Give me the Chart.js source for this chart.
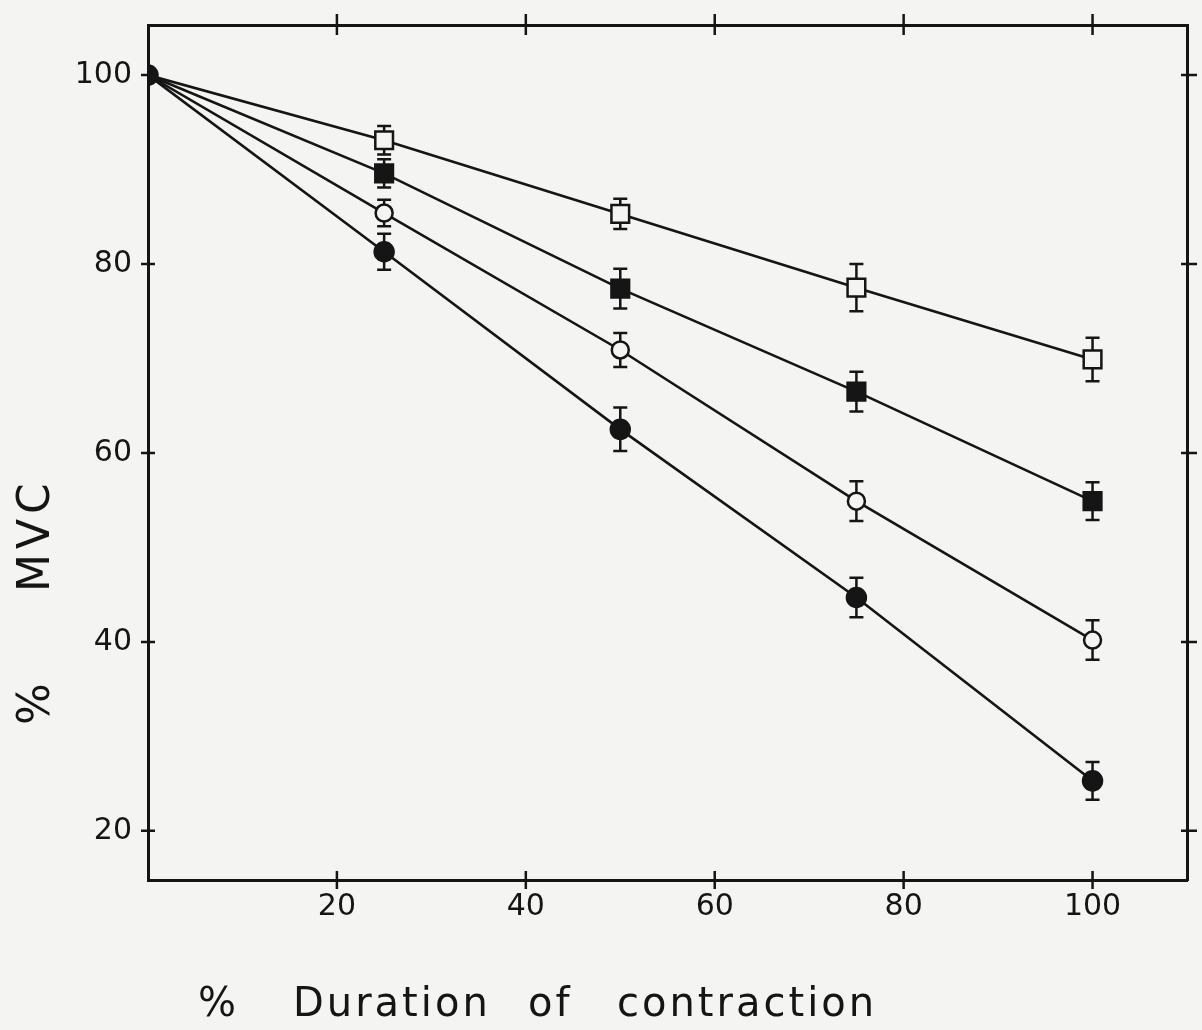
<!DOCTYPE html>
<html>
<head>
<meta charset="utf-8">
<script src="https://cdn.jsdelivr.net/npm/chart.js@4.4.1/dist/chart.umd.min.js"></script>
<style>
  html, body { margin: 0; padding: 0; background: #f4f4f2; }
</style>
</head>
<body>
<canvas id="myChart" width="1202" height="1030"></canvas>
<script>
// x values: % duration of contraction
const durations = [0, 25, 50, 75, 100];

// % MVC for each group (marker shape)
const filledCircle = [100, 81.3, 62.5, 44.7, 25.3];
const openCircle = [100, 85.4, 70.9, 54.9, 40.2];
const filledSquare = [100, 89.6, 77.4, 66.5, 54.9];
const openSquare = [100, 93.1, 85.3, 77.5, 69.9];

// +/- error bars
const filledCircleErr = [0, 1.9, 2.3, 2.1, 2.0];
const openCircleErr = [0, 1.4, 1.8, 2.1, 2.1];
const filledSquareErr = [0, 1.5, 2.1, 2.1, 2.0];
const openSquareErr = [0, 1.5, 1.6, 2.5, 2.3];

const xTicks = [20, 40, 60, 80, 100];
const yTicks = [20, 40, 60, 80, 100];

const ink = "#151515";
const paper = "#f4f4f2";
const ctx = document.getElementById("myChart").getContext("2d");

function series(values, errs, style, filled, radius, hideFirst) {
  return {
    data: durations.map((x, i) => ({ x: x, y: values[i] })),
    errors: errs,
    showLine: true,
    borderColor: ink,
    borderWidth: 2.6,
    pointStyle: style,
    pointBackgroundColor: filled ? ink : paper,
    pointBorderColor: ink,
    pointBorderWidth: 2.5,
    pointRadius: (c) => (hideFirst && c.dataIndex === 0 ? 0 : radius),
    tension: 0,
  };
}

// error bars, drawn under the markers
const errorBars = {
  id: "errorBars",
  beforeDatasetsDraw(chart) {
    const y = chart.scales.y;
    const c = chart.ctx;
    c.save();
    c.strokeStyle = ink;
    c.lineWidth = 2.5;
    chart.data.datasets.forEach((ds, di) => {
      const meta = chart.getDatasetMeta(di);
      ds.errors.forEach((e, i) => {
        if (!e) return;
        const px = meta.data[i].x;
        const v = ds.data[i].y;
        const top = y.getPixelForValue(v + e);
        const bot = y.getPixelForValue(v - e);
        c.beginPath();
        c.moveTo(px, top);
        c.lineTo(px, bot);
        c.moveTo(px - 7, top);
        c.lineTo(px + 7, top);
        c.moveTo(px - 7, bot);
        c.lineTo(px + 7, bot);
        c.stroke();
      });
    });
    c.restore();
  },
};

// tick marks on all four sides + axis titles
const frameTicks = {
  id: "frameTicks",
  beforeDraw(chart) {
    const c = chart.ctx;
    c.save();
    c.fillStyle = paper;
    c.fillRect(0, 0, chart.width, chart.height);
    c.restore();
  },
  afterDraw(chart) {
    const c = chart.ctx;
    const a = chart.chartArea;
    const x = chart.scales.x;
    const y = chart.scales.y;
    c.save();
    c.strokeStyle = ink;
    c.lineWidth = 2.5;
    c.beginPath();
    xTicks.forEach((t) => {
      const px = x.getPixelForValue(t);
      c.moveTo(px, a.bottom + 9);
      c.lineTo(px, a.bottom - 9);
      c.moveTo(px, a.top - 11);
      c.lineTo(px, a.top + 10);
    });
    yTicks.forEach((t) => {
      const py = y.getPixelForValue(t);
      c.moveTo(a.left - 7, py);
      c.lineTo(a.left + 7, py);
      c.moveTo(a.right - 6, py);
      c.lineTo(a.right + 10, py);
    });
    c.stroke();

    // axis titles
    c.fillStyle = ink;
    c.textBaseline = "alphabetic";
    c.textAlign = "left";
    c.font = "40px 'DejaVu Sans'";
    c.letterSpacing = "3px";
    c.fillText("%", 198, 1016);
    c.fillText("Duration", 293, 1016);
    c.fillText("of", 528, 1016);
    c.fillText("contraction", 617, 1016);

    c.font = "44px 'DejaVu Sans'";
    c.letterSpacing = "5px";
    c.translate(49, 725);
    c.rotate(-Math.PI / 2);
    c.fillText("%", 0, 0);
    c.fillText("MVC", 133, 0);
    c.restore();
  },
};

function noEdgePadding(s) {
  s.paddingTop = 0;
  s.paddingBottom = 0;
  s.paddingLeft = 0;
  s.paddingRight = 0;
}

new Chart(ctx, {
  type: "scatter",
  data: {
    datasets: [
      series(filledCircle, filledCircleErr, "circle", true, 9.5, false),
      series(openCircle, openCircleErr, "circle", false, 8.5, true),
      series(filledSquare, filledSquareErr, "rect", true, 12.5, true),
      series(openSquare, openSquareErr, "rect", false, 12.5, true),
    ],
  },
  options: {
    responsive: false,
    animation: false,
    devicePixelRatio: 1,
    layout: { padding: { top: 25, right: 14, left: 0, bottom: 0 } },
    plugins: { legend: { display: false }, tooltip: { enabled: false } },
    scales: {
      x: {
        type: "linear",
        position: "bottom",
        min: 0,
        max: 110,
        afterBuildTicks: (s) => { s.ticks = xTicks.map((v) => ({ value: v })); },
        afterFit: (s) => { s.height = 150; noEdgePadding(s); },
        grid: { display: false, drawTicks: false },
        border: { display: true, color: ink, width: 3 },
        ticks: { color: ink, padding: 9, maxRotation: 0, font: { family: "DejaVu Sans", size: 30 } },
      },
      x2: {
        type: "linear",
        position: "top",
        min: 0,
        max: 110,
        afterFit: (s) => { s.height = 0; noEdgePadding(s); },
        grid: { display: false, drawTicks: false },
        border: { display: true, color: ink, width: 3 },
        ticks: { display: false },
      },
      y: {
        type: "linear",
        position: "left",
        min: 14.8,
        max: 105.3,
        afterBuildTicks: (s) => { s.ticks = yTicks.map((v) => ({ value: v })); },
        afterFit: (s) => { s.width = 148; noEdgePadding(s); },
        grid: { display: false, drawTicks: false },
        border: { display: true, color: ink, width: 3 },
        ticks: { color: ink, padding: 16, font: { family: "DejaVu Sans", size: 30 } },
      },
      y2: {
        type: "linear",
        position: "right",
        min: 14.8,
        max: 105.3,
        afterFit: (s) => { s.width = 0; noEdgePadding(s); },
        grid: { display: false, drawTicks: false },
        border: { display: true, color: ink, width: 3 },
        ticks: { display: false },
      },
    },
  },
  plugins: [errorBars, frameTicks],
});
</script>
</body>
</html>
